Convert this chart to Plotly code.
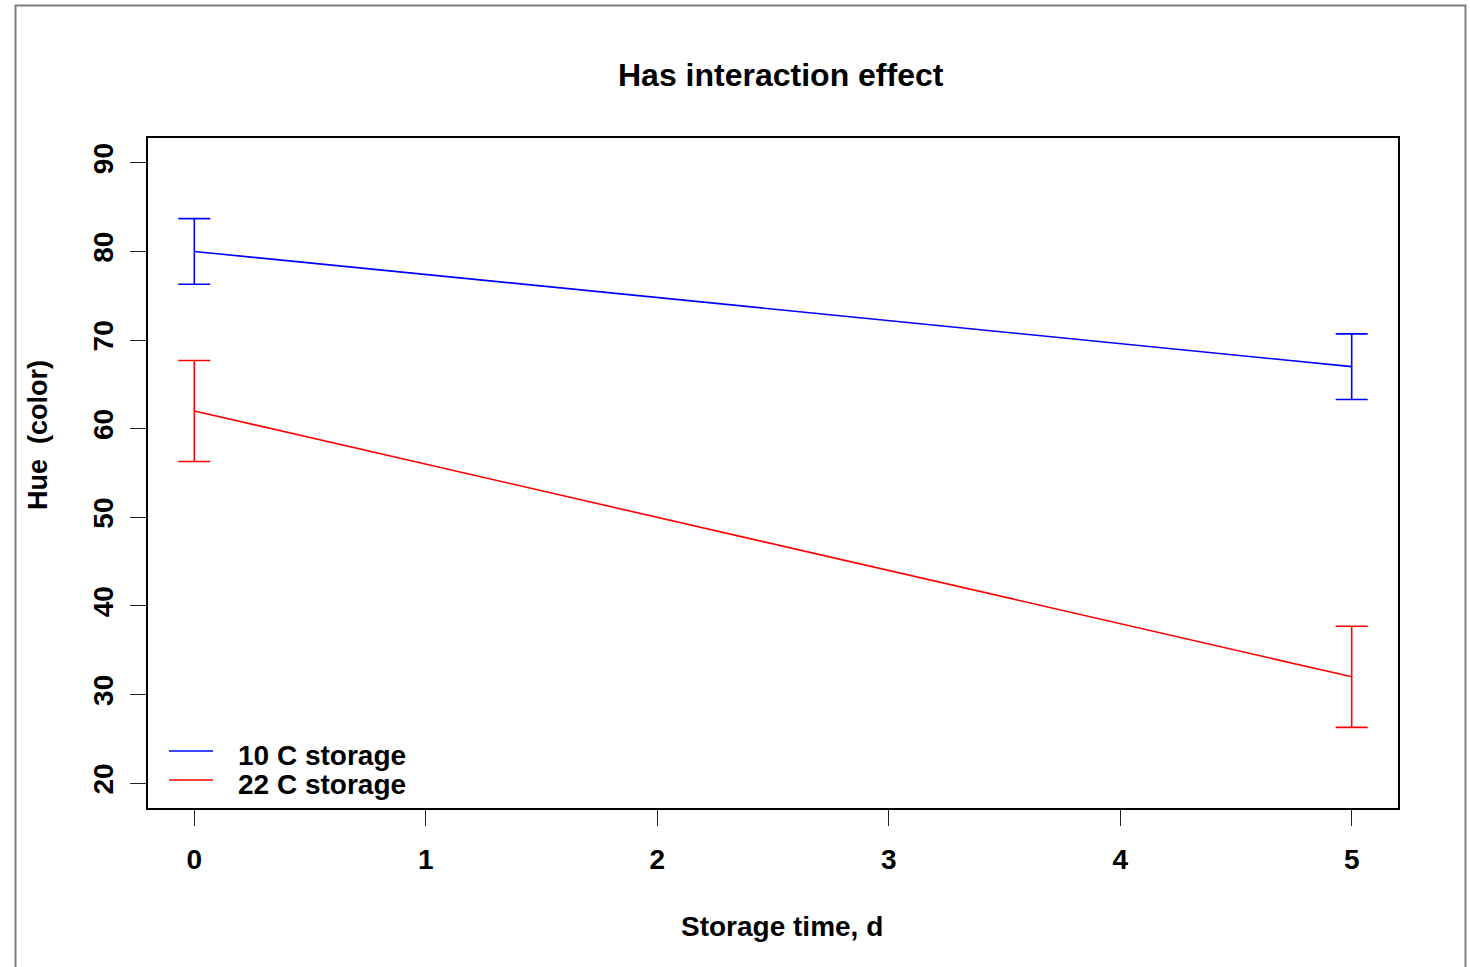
import plotly.graph_objects as go

# Storage experiment: mean hue with error margins, per storage temperature
days = [0, 5]
series_names = ["10 C storage", "22 C storage"]
hue_10c = [80, 67]
hue_22c = [62, 32]
err_10c = [3.7, 3.7]
err_22c = [5.7, 5.7]
colors = ["#0000FF", "#FF0000"]

x_ticks = [0, 1, 2, 3, 4, 5]
y_ticks = [20, 30, 40, 50, 60, 70, 80, 90]

W, H = 1470, 967
L, R, T, B = 148, 72, 138, 159
PW, PH = W - L - R, H - T - B

FONT = "Liberation Sans, Arial, Helvetica, sans-serif"


def px_x(p):
    return (p - L) / PW


def px_y(p):
    return (H - B - p) / PH


fig = go.Figure()
for ys, es, c in [(hue_10c, err_10c, colors[0]), (hue_22c, err_22c, colors[1])]:
    fig.add_trace(go.Scatter(
        x=days, y=ys, mode="lines",
        line=dict(color=c, width=1.6),
        error_y=dict(type="data", array=es, visible=True, color=c,
                     thickness=1.6, width=16),
        showlegend=False,
    ))

axis_common = dict(
    showgrid=False, zeroline=False, showline=True, linecolor="black",
    linewidth=2, mirror=True, ticks="outside", ticklen=16, tickwidth=1.4,
    tickcolor="#222222",
    tickfont=dict(family=FONT, size=28, color="black", weight="bold"),
)

fig.update_layout(
    width=W, height=H,
    margin=dict(l=L, r=R, t=T, b=B, pad=0),
    paper_bgcolor="white", plot_bgcolor="white",
    xaxis=dict(range=[-0.2, 5.2], tickvals=x_ticks, ticklabelstandoff=9,
               **axis_common),
    yaxis=dict(range=[17.2, 92.8], tickvals=y_ticks, tickangle=-90,
               ticklabelstandoff=6, **axis_common),
)

annotations = [
    dict(text="Has interaction effect", x=px_x(781), y=px_y(75),
         font=dict(family=FONT, size=32, color="black", weight="bold")),
    dict(text="Storage time, d", x=px_x(782), y=px_y(926),
         font=dict(family=FONT, size=28, color="black", weight="bold")),
    dict(text="Hue\u00a0 (color)", x=px_x(38), y=px_y(435), textangle=-90,
         font=dict(family=FONT, size=27, color="black", weight="bold")),
]

# legend drawn in the lower-left corner of the plot area
shapes = []
for i, (name, c) in enumerate(zip(series_names, colors)):
    ly = 751 + i * 29
    shapes.append(dict(type="line", xref="paper", yref="paper",
                       x0=px_x(169), x1=px_x(213), y0=px_y(ly), y1=px_y(ly),
                       line=dict(color=c, width=1.6)))
    annotations.append(dict(text=name, x=px_x(236), y=px_y(ly + 4),
                            xanchor="left",
                            font=dict(family=FONT, size=28, color="black",
                                      weight="bold")))

# outer frame around the figure
shapes.append(dict(type="rect", xref="paper", yref="paper",
                   x0=px_x(15.5), x1=px_x(1465.5), y0=px_y(990), y1=px_y(5.5),
                   line=dict(color="#7f7f7f", width=2)))

for a in annotations:
    a.update(xref="paper", yref="paper", showarrow=False)
    a.setdefault("xanchor", "center")
    a.setdefault("yanchor", "middle")

fig.update_layout(annotations=annotations, shapes=shapes)

fig.write_html("out.html")
